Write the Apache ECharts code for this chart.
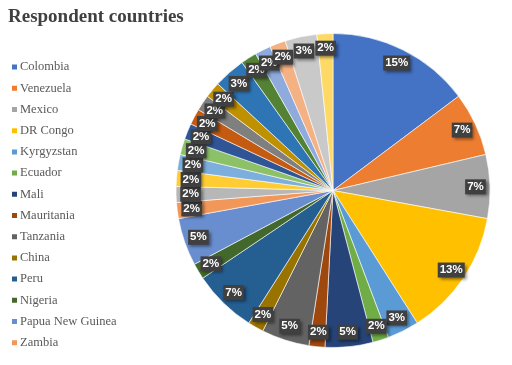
<!DOCTYPE html>
<html>
<head>
<meta charset="utf-8">
<script src="https://cdn.jsdelivr.net/npm/echarts@6/dist/echarts.min.js"></script>
<style>html,body{margin:0;padding:0;background:#fff}#c{width:512px;height:365px}</style>
</head>
<body>
<div id="c"></div>
<script>
var countries = ['Colombia','Venezuela','Mexico','DR Congo','Kyrgyzstan','Ecuador','Mali','Mauritania','Tanzania','China','Peru','Nigeria','Papua New Guinea','Zambia',
  'Country 15','Country 16','Country 17','Country 18','Country 19','Country 20','Country 21','Country 22','Country 23','Country 24','Country 25','Country 26','Country 27','Country 28'];
var respondents = [9,4,4,8,2,1,3,1,3,1,4,1,3,1, 1,1,1,1,1,1,1,1,2,1,1,1,2,1];
var legendShown = countries.slice(0,14);
var palette = ['#4472C4','#ED7D31','#A5A5A5','#FFC000','#5B9BD5','#70AD47',
  '#264478','#9E480E','#636363','#997300','#255E91','#43682B',
  '#698ED0','#F1975A','#B7B7B7','#FFCD33','#7CAFDD','#8CC168',
  '#2F5597','#C55A11','#7F7F7F','#BF9000','#2E75B6','#548235',
  '#8FAADC','#F4B183','#C9C9C9','#FFD966'];

var total = respondents.reduce(function(a,b){return a+b;},0);
var data = countries.map(function(n,i){return {name:n, value:respondents[i]};});

var chart = echarts.init(document.getElementById('c'), null, {renderer:'canvas'});
chart.setOption({
  animation:false,
  color: palette,
  title:{text:'Respondent countries', left:3, top:3,
    textStyle:{fontFamily:'Liberation Serif', fontWeight:'bold', fontSize:19, color:'#404040'}},
  legend:{orient:'vertical', left:5, top:55, data:legendShown, icon:'rect',
    itemWidth:7, itemHeight:7, itemGap:7, selectedMode:false,
    textStyle:{fontFamily:'Liberation Serif', fontSize:12.5, color:'#595959', lineHeight:14.2, padding:[0,0,0,-3]}},
  series:[
    {type:'pie', center:[333,190.5], radius:[0,157], startAngle:90, clockwise:true,
     data:data, label:{show:false}, labelLine:{show:false},
     itemStyle:{borderColor:'#fff', borderWidth:0.6}, emphasis:{disabled:true}, silent:true},
    {type:'pie', center:[333,190.5], radius:[122,157], startAngle:90, clockwise:true,
     data:data, silent:true, emphasis:{disabled:true}, avoidLabelOverlap:false,
     labelLayout:{hideOverlap:false},
     itemStyle:{color:'rgba(0,0,0,0)'}, labelLine:{show:false},
     label:{show:true, position:'inside',
       formatter:function(p){return Math.round(p.value/total*100)+'%';},
       fontFamily:'Liberation Sans', fontWeight:'bold', fontSize:11.5, color:'#fff',
       backgroundColor:'#404040', padding:[2,2,1,2],
       shadowColor:'rgba(0,0,0,0.45)', shadowBlur:3, shadowOffsetX:2, shadowOffsetY:2}}
  ]
});
</script>
</body>
</html>
